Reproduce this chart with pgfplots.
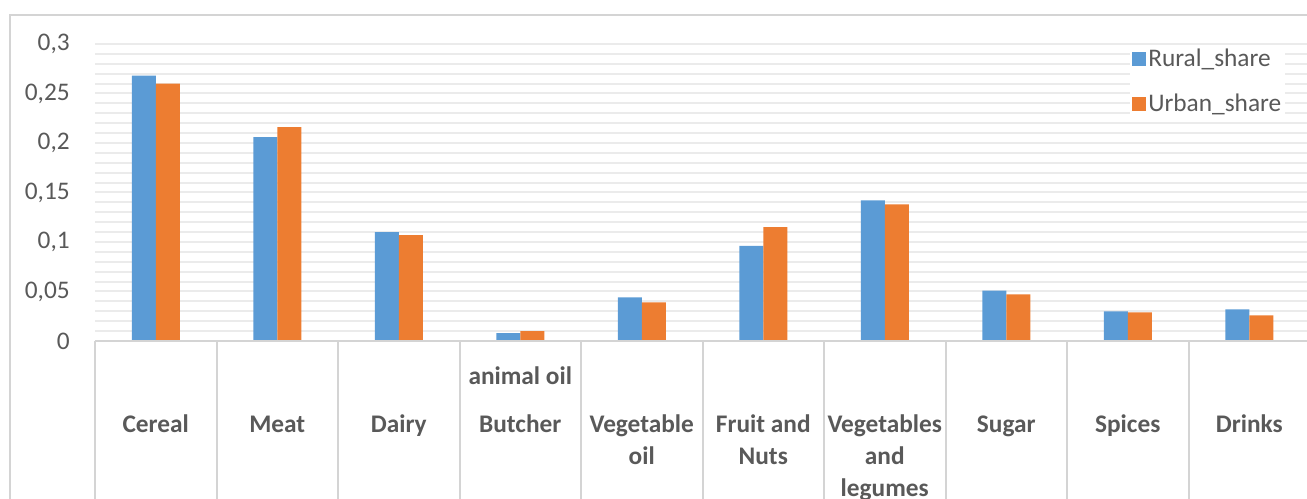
\documentclass[border=0pt]{standalone}
\usepackage{fontspec}
\setmainfont{Carlito}
\usepackage{pgfplots}
\pgfplotsset{compat=1.18}
\definecolor{rural}{HTML}{5B9BD5}
\definecolor{urban}{HTML}{ED7D31}
\definecolor{gridc}{HTML}{EBEBEB}
\definecolor{linec}{HTML}{D4D4D4}
\definecolor{txt}{HTML}{595959}
\newcommand{\lab}[1]{\smash{\begin{tabular}[t]{@{}c@{}}#1\end{tabular}}\strut}
\begin{document}
\begin{tikzpicture}
\useasboundingbox (0pt,0pt) rectangle (980.25pt,374.25pt);
\clip (0pt,0pt) rectangle (980.25pt,374.25pt);
\draw[linec,line width=1.5pt] (7.5pt,-10pt) -- (7.5pt,363pt) -- (990pt,363pt);
\begin{axis}[
  at={(71.25pt,118.5pt)}, anchor=south west,
  scale only axis, width=911.25pt, height=222.75pt,
  xmin=-0.5, xmax=9.5, ymin=0, ymax=0.3,
  clip=false,
  ybar=0pt, bar width=18pt,
  axis line style={draw=none},
  xtick={0,...,9},
  xticklabels={Cereal,Meat,Dairy,{\smash{\begin{tabular}[b]{@{}c@{}}animal oil\\[12pt]Butcher\end{tabular}}\strut},{\lab{Vegetable\\oil}},{\lab{Fruit and\\Nuts}},{\lab{Vegetables\\and\\legumes}},Sugar,Spices,Drinks},
  xticklabel style={anchor=north, inner sep=0pt, yshift=-47pt, font=\fontsize{19}{24}\selectfont\bfseries\strut, text=txt},
  xtick style={draw=none},
  ytick={0,0.05,...,0.3},
  yticklabels={0,{0,05},{0,1},{0,15},{0,2},{0,25},{0,3}},
  yticklabel style={font=\fontsize{19}{23}\selectfont, text=txt, inner sep=0pt, xshift=-18.75pt},
  ytick style={draw=none}, minor y tick style={draw=none},
  minor y tick num=4,
  ymajorgrids, yminorgrids,
  major grid style={gridc, line width=1.5pt},
  minor grid style={gridc, line width=1.5pt},
  legend style={at={(0.8519,0.997)}, anchor=north west, draw=none, fill=white, inner sep=1pt,
    font=\fontsize{19}{23}\selectfont, text=txt, row sep=15pt},
  legend cell align=left,
]
\addplot[fill=rural, draw=none, legend image code/.code={\fill[rural] (0pt,-5.25pt) rectangle (10.5pt,5.25pt);}]
  coordinates {(0,0.268) (1,0.206) (2,0.110) (3,0.008) (4,0.044) (5,0.096) (6,0.142) (7,0.051) (8,0.030) (9,0.032)};
\addlegendentry{Rural\_share}
\addplot[fill=urban, draw=none, legend image code/.code={\fill[urban] (0pt,-5.25pt) rectangle (10.5pt,5.25pt);}]
  coordinates {(0,0.260) (1,0.216) (2,0.107) (3,0.010) (4,0.039) (5,0.115) (6,0.138) (7,0.047) (8,0.029) (9,0.026)};
\addlegendentry{Urban\_share}
\draw[linec, line width=1.5pt] (axis cs:-0.5,0) -- (axis cs:9.6,0);
\pgfplotsinvokeforeach{-0.5,0.5,1.5,2.5,3.5,4.5,5.5,6.5,7.5,8.5,9.5}{
  \draw[linec, line width=1.5pt] (axis cs:#1,0) -- ([yshift=-130pt]axis cs:#1,0);
}
\end{axis}
\end{tikzpicture}
\end{document}
